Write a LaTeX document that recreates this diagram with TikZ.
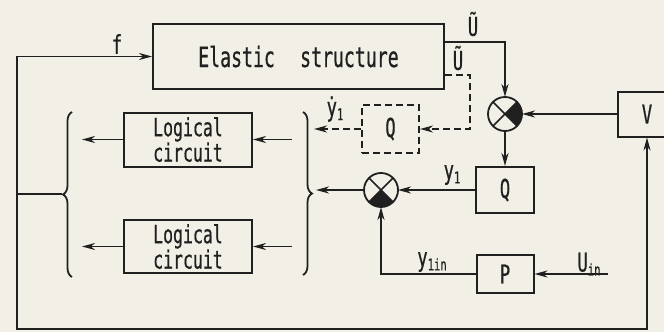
\documentclass[tikz,border=0pt]{standalone}
\usepackage{fontspec}
\newfontfamily\lett[FakeStretch=0.66,FakeBold=0.6]{DejaVu Sans Mono}
\newfontfamily\lettw[FakeStretch=0.65,FakeBold=0.6,WordSpace=2.3]{DejaVu Sans Mono}
\usetikzlibrary{arrows.meta,decorations.pathreplacing,calc}
\definecolor{paper}{HTML}{F2EFE6}
\definecolor{ink}{HTML}{202020}
\newcommand{\sbs}[1]{\raisebox{-4pt}{\fontsize{16}{16}\selectfont #1}}
\begin{document}
\begin{tikzpicture}[x=1pt,y=-1pt,
  every node/.style={text=ink},
  blk/.style={draw=ink, line width=2pt, inner sep=0pt, font=\lett\fontsize{26}{28}\selectfont, align=center},
  lbl/.style={font=\lett\fontsize{26}{28}\selectfont, inner sep=0pt},
  wire/.style={draw=ink, line width=1.5pt},
  arr/.style={wire, -{Stealth[length=13pt,width=7pt,inset=4pt]}},
  dsh/.style={dash pattern=on 7pt off 4pt},
  sum/.style={circle, draw=ink, line width=1.8pt, minimum size=34pt, inner sep=0pt, outer sep=0pt},
  brc/.style={wire, line width=1.8pt, decorate, decoration={brace, amplitude=9pt}}
]
\fill[paper] (0,0) rectangle (664,332);
\useasboundingbox (0,0) rectangle (664,332);

% blocks
\node[blk, minimum width=291pt, minimum height=65pt, font=\lettw\fontsize{28}{30}\selectfont] (es) at (298.5,56.5) {Elastic structure};
\node[blk, minimum width=128pt, minimum height=54pt, font=\lett\fontsize{25}{22}\selectfont] (lc1) at (188,139.5) {Logical\\circuit};
\node[blk, minimum width=128pt, minimum height=53pt, font=\lett\fontsize{25}{22}\selectfont] (lc2) at (188,246.5) {Logical\\circuit};
\node[blk, dsh, minimum width=57pt, minimum height=48pt] (qd) at (390.5,129) {Q};
\node[blk, minimum width=58pt, minimum height=46pt] (q) at (505,190) {Q};
\node[blk, minimum width=57pt, minimum height=38pt] (p) at (505,274) {P};
\node[blk, minimum width=58pt, minimum height=45pt] (v) at (647,114) {V};
\node[sum] (s1) at (505,114) {};
\node[sum] (s2) at (381,190) {};

% summing junction details
\fill[ink] (s1.center) -- (s1.-45) arc[start angle=-45, end angle=45, radius=17pt] -- cycle;
\fill[ink] (s2.center) -- (s2.-135) arc[start angle=-135, end angle=-45, radius=17pt] -- cycle;
\draw[wire] (s1.north east) -- (s1.south west) (s1.north west) -- (s1.south east);
\draw[wire] (s2.north east) -- (s2.south west) (s2.north west) -- (s2.south east);

% braces
\draw[brc] (72,277) -- (72,112);
\draw[brc] (303,112) -- (303,275);

% coordinates
\coordinate (lbt) at (62,194);
\coordinate (lj) at (17,194);
\coordinate (ftop) at (17,56.5);
\coordinate (bl) at (17,329);
\coordinate (br) at (647,329);
\coordinate (la1) at (82,139.5);
\coordinate (la2) at (82,246.5);
\coordinate (ra1) at (292,139.5);
\coordinate (ra2) at (292,246.5);
\coordinate (rbt) at (316,190);
\coordinate (rdt) at (314,129);
\coordinate (uin) at (608,274);
\coordinate (ut) at (505,42);
\coordinate (dt1) at (470,75);

% connectors
\draw[wire] (lbt) -- (lj);
\draw[arr] (lj) -- (ftop) -- (es.west);
\draw[arr] (lj) -- (bl) -- (br) -- (v.south);
\draw[arr] (lc1.west) -- (la1);
\draw[arr] (lc2.west) -- (la2);
\draw[arr] (ra1) -- (lc1.east);
\draw[arr] (ra2) -- (lc2.east);
\draw[arr] (s2.west) -- (rbt);
\draw[arr, dsh] (qd.west) -- (rdt);
\draw[arr] (q.west) -- (s2.east);
\draw[arr] (p.west) -| (s2.south);
\draw[arr] (uin) -- (p.east);
\draw[arr] (v.west) -- (s1.east);
\draw[arr] (s1.south) -- (q.north);
\draw[arr] (es.east |- ut) -- (ut) -- (s1.north);
\draw[arr, dsh] (es.east |- dt1) -- (dt1) |- (qd.east);

% labels
\node[lbl] (lf) at (117,44) {f};
\node[lbl] (lu1) at (473,24) {\~{U}};
\node[lbl] (lu2) at (458,58) {\~{U}};
\node[lbl] (ly1d) at (335,109) {\.{y}\sbs{1}};
\node[lbl] (ly1) at (452,175) {y\sbs{1}};
\node[lbl] (ly1in) at (432,262) {y\sbs{1in}};
\node[lbl] (luin) at (589,264) {U\sbs{in}};
\end{tikzpicture}
\end{document}
